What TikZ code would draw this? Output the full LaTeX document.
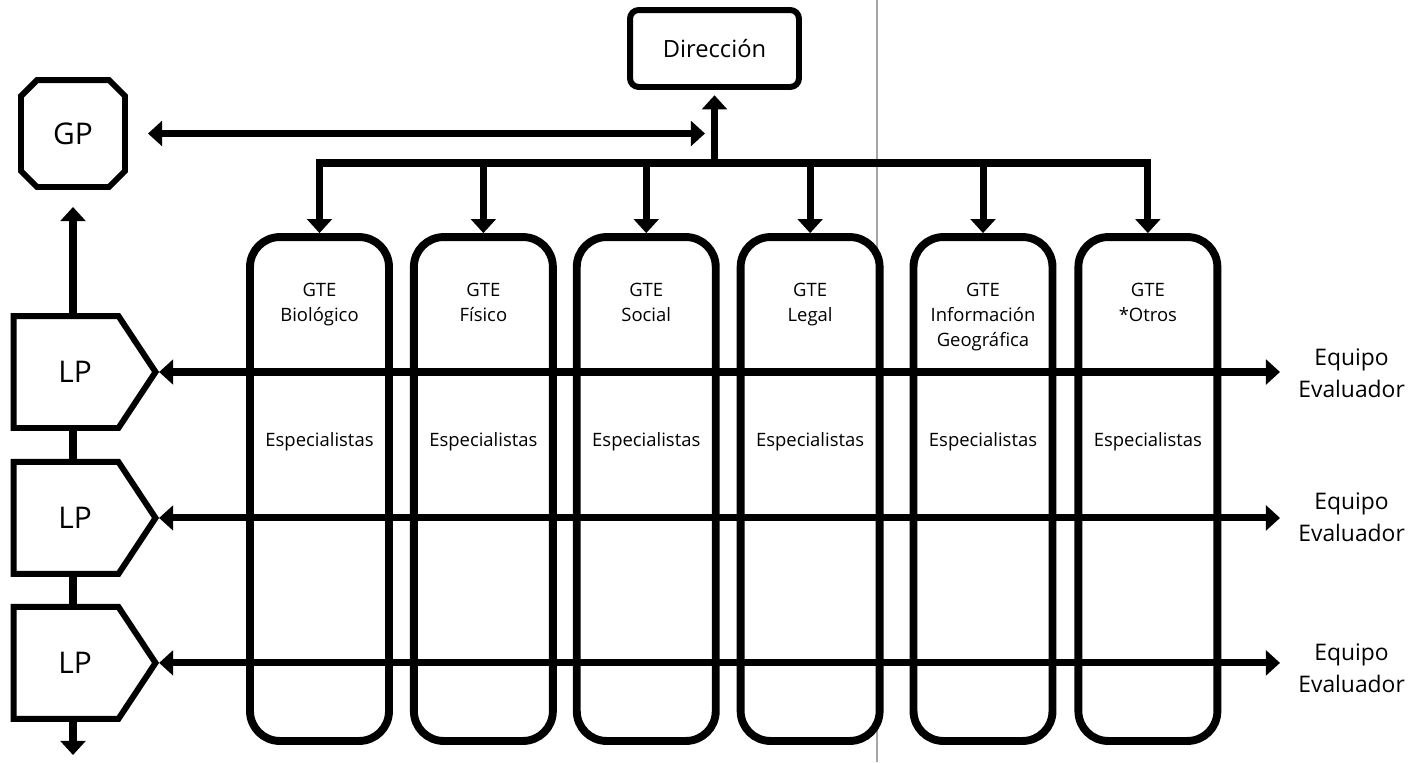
\documentclass[tikz,border=0pt]{standalone}
\usepackage{fontspec}
\setmainfont{Open Sans}
\usetikzlibrary{positioning, shapes.misc, shapes.symbols, arrows.meta}

\begin{document}
\begin{tikzpicture}[x=0.02cm, y=-0.02cm, >={Triangle[width=14pt,length=8pt]}]
    \tikzstyle{every node}=[font=\fontsize{10.5}{14}\selectfont]
    \tikzstyle{gte}=[draw, line width=4.5pt, rounded corners=17pt, minimum width=2.78cm, minimum height=10.08cm]
    \tikzstyle{title}=[align=center, inner sep=0pt]
    \tikzstyle{lp}=[draw, line width=3.4pt, signal, signal to=east, signal pointer angle=113, minimum width=2.84cm, minimum height=2.24cm, font=\fontsize{17}{20}\selectfont]
    \tikzstyle{team}=[align=center, inner sep=0pt, anchor=west, font=\fontsize{13}{18}\selectfont]
    \tikzstyle{link}=[line width=4pt]

    \useasboundingbox (0,0) rectangle (1412,762);
    \draw [gray!70, line width=1.2pt] (877,0) -- (877,762);

    \node (dir) [draw, line width=3.4pt, rounded corners=5pt, minimum width=3.38cm, minimum height=1.54cm, font=\fontsize{13.5}{16}\selectfont] at (714.5,48.5) {Dirección};
    \node (gp)  [draw, line width=3.4pt, chamfered rectangle, chamfered rectangle xsep=0.16cm, chamfered rectangle ysep=0.16cm, minimum width=2.08cm, minimum height=2.14cm, font=\fontsize{17}{20}\selectfont] at (73,133.5) {GP};

    \node (b1) [gte] at (319.5,489) {};
    \node (b2) [gte, right=0.34cm of b1] {};
    \node (b3) [gte, right=0.32cm of b2] {};
    \node (b4) [gte, right=0.34cm of b3] {};
    \node (b5) [gte, right=0.52cm of b4] {};
    \node (b6) [gte, right=0.36cm of b5] {};

    \node (t1) [title, below=1.0cm of b1.north] {GTE\\Biológico};
    \node (t2) [title, below=1.0cm of b2.north] {GTE\\Físico};
    \node (t3) [title, below=1.0cm of b3.north] {GTE\\Social};
    \node (t4) [title, below=1.0cm of b4.north] {GTE\\Legal};
    \node (t5) [title, below=1.0cm of b5.north] {GTE\\Información\\Geográfica};
    \node (t6) [title, below=1.0cm of b6.north] {GTE\\*Otros};

    \foreach \b in {b1,b2,b3,b4,b5,b6}
        \node (s\b) at ([yshift=0.94cm]\b.center) {Especialistas};

    \node (lp1) [lp] at (66,372) {\hskip0.36cm LP};
    \node (lp2) [lp, below=0.56cm of lp1] {\hskip0.36cm LP};
    \node (lp3) [lp, below=0.54cm of lp2] {\hskip0.36cm LP};

    \node (eq1) [team] at (1298,373) {Equipo\\Evaluador};
    \node (eq2) [team] at (1298,517) {Equipo\\Evaluador};
    \node (eq3) [team] at (1298,668) {Equipo\\Evaluador};

    \coordinate (bus)   at (716,163);
    \coordinate (gpend) at (705,0);
    \coordinate (out)   at (73,755);

    \draw [link, ->] (bus) -| (b1.north);
    \draw [link, ->] (bus) -| (b6.north);
    \foreach \b in {b2,b3,b4,b5}
        \draw [link, ->] (\b.north |- bus) -- (\b.north);
    \draw [link, ->, shorten >=3pt] (dir.south |- bus) -- (dir.south);
    \draw [link, <->, shorten <=0.4cm] (gp.east) -- (gp.east -| gpend);

    \draw [link, ->, shorten >=0.34cm] (gp.south |- lp1.north) -- (gp.south);
    \draw [link] (gp.south |- lp1.south) -- (gp.south |- lp2.north);
    \draw [link] (gp.south |- lp2.south) -- (gp.south |- lp3.north);
    \draw [link, ->] (gp.south |- lp3.south) -- (out);

    \foreach \i in {1,2,3}
        \draw [link, <->, shorten >=0.36cm] (lp\i.east) -- (lp\i.east -| eq\i.west);
\end{tikzpicture}
\end{document}
